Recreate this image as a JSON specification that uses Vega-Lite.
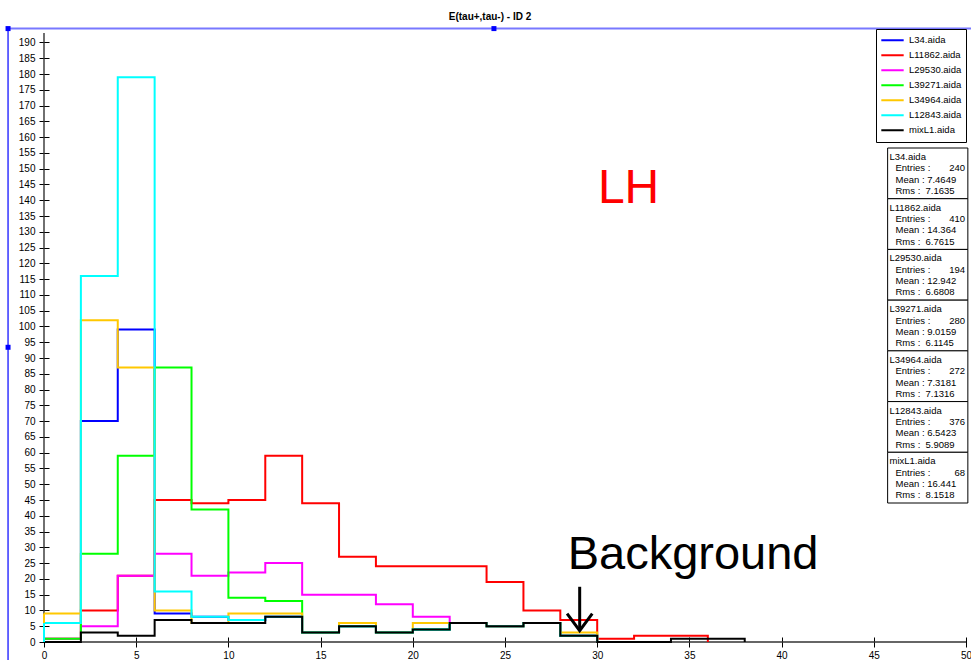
{
  "$schema": "https://vega.github.io/schema/vega-lite/v6.json",
  "width": 922,
  "height": 609,
  "autosize": {"type": "none"},
  "padding": {"left": 44, "top": 33, "right": 5, "bottom": 18},
  "background": "white",
  "config": {"view": {"stroke": null}, "font": "Liberation Sans"},
  "title": {"text": "E(tau+,tau-) - ID 2", "fontSize": 10, "fontWeight": "bold", "font": "Liberation Sans", "color": "black", "offset": 4, "dx": -15, "anchor": "middle"},
  "data": {"values": [{}]},
  "datasets": {
    "hist": [
      {"file": "L34.aida", "edge": 0, "count": 6}, {"file": "L34.aida", "edge": 2, "count": 70}, {"file": "L34.aida", "edge": 4, "count": 99}, {"file": "L34.aida", "edge": 6, "count": 9}, {"file": "L34.aida", "edge": 8, "count": 8}, {"file": "L34.aida", "edge": 10, "count": 7}, {"file": "L34.aida", "edge": 12, "count": 8}, {"file": "L34.aida", "edge": 14, "count": 3}, {"file": "L34.aida", "edge": 16, "count": 5}, {"file": "L34.aida", "edge": 18, "count": 3}, {"file": "L34.aida", "edge": 20, "count": 4}, {"file": "L34.aida", "edge": 22, "count": 6}, {"file": "L34.aida", "edge": 24, "count": 5}, {"file": "L34.aida", "edge": 26, "count": 6}, {"file": "L34.aida", "edge": 28, "count": 2}, {"file": "L34.aida", "edge": 30, "count": 0},
      {"file": "L11862.aida", "edge": 0, "count": 1}, {"file": "L11862.aida", "edge": 2, "count": 10}, {"file": "L11862.aida", "edge": 4, "count": 21}, {"file": "L11862.aida", "edge": 6, "count": 45}, {"file": "L11862.aida", "edge": 8, "count": 44}, {"file": "L11862.aida", "edge": 10, "count": 45}, {"file": "L11862.aida", "edge": 12, "count": 59}, {"file": "L11862.aida", "edge": 14, "count": 44}, {"file": "L11862.aida", "edge": 16, "count": 27}, {"file": "L11862.aida", "edge": 18, "count": 24}, {"file": "L11862.aida", "edge": 20, "count": 24}, {"file": "L11862.aida", "edge": 22, "count": 24}, {"file": "L11862.aida", "edge": 24, "count": 19}, {"file": "L11862.aida", "edge": 26, "count": 10}, {"file": "L11862.aida", "edge": 28, "count": 7}, {"file": "L11862.aida", "edge": 30, "count": 1}, {"file": "L11862.aida", "edge": 32, "count": 2}, {"file": "L11862.aida", "edge": 34, "count": 2}, {"file": "L11862.aida", "edge": 36, "count": 0},
      {"file": "L29530.aida", "edge": 0, "count": 1}, {"file": "L29530.aida", "edge": 2, "count": 5}, {"file": "L29530.aida", "edge": 4, "count": 21}, {"file": "L29530.aida", "edge": 6, "count": 28}, {"file": "L29530.aida", "edge": 8, "count": 21}, {"file": "L29530.aida", "edge": 10, "count": 22}, {"file": "L29530.aida", "edge": 12, "count": 25}, {"file": "L29530.aida", "edge": 14, "count": 15}, {"file": "L29530.aida", "edge": 16, "count": 15}, {"file": "L29530.aida", "edge": 18, "count": 12}, {"file": "L29530.aida", "edge": 20, "count": 8}, {"file": "L29530.aida", "edge": 22, "count": 6}, {"file": "L29530.aida", "edge": 24, "count": 5}, {"file": "L29530.aida", "edge": 26, "count": 6}, {"file": "L29530.aida", "edge": 28, "count": 2}, {"file": "L29530.aida", "edge": 30, "count": 0},
      {"file": "L39271.aida", "edge": 0, "count": 1}, {"file": "L39271.aida", "edge": 2, "count": 28}, {"file": "L39271.aida", "edge": 4, "count": 59}, {"file": "L39271.aida", "edge": 6, "count": 87}, {"file": "L39271.aida", "edge": 8, "count": 42}, {"file": "L39271.aida", "edge": 10, "count": 14}, {"file": "L39271.aida", "edge": 12, "count": 13}, {"file": "L39271.aida", "edge": 14, "count": 3}, {"file": "L39271.aida", "edge": 16, "count": 5}, {"file": "L39271.aida", "edge": 18, "count": 3}, {"file": "L39271.aida", "edge": 20, "count": 4}, {"file": "L39271.aida", "edge": 22, "count": 6}, {"file": "L39271.aida", "edge": 24, "count": 5}, {"file": "L39271.aida", "edge": 26, "count": 6}, {"file": "L39271.aida", "edge": 28, "count": 2}, {"file": "L39271.aida", "edge": 30, "count": 0},
      {"file": "L34964.aida", "edge": 0, "count": 9}, {"file": "L34964.aida", "edge": 2, "count": 102}, {"file": "L34964.aida", "edge": 4, "count": 87}, {"file": "L34964.aida", "edge": 6, "count": 10}, {"file": "L34964.aida", "edge": 8, "count": 6}, {"file": "L34964.aida", "edge": 10, "count": 9}, {"file": "L34964.aida", "edge": 12, "count": 9}, {"file": "L34964.aida", "edge": 14, "count": 3}, {"file": "L34964.aida", "edge": 16, "count": 6}, {"file": "L34964.aida", "edge": 18, "count": 3}, {"file": "L34964.aida", "edge": 20, "count": 6}, {"file": "L34964.aida", "edge": 22, "count": 6}, {"file": "L34964.aida", "edge": 24, "count": 5}, {"file": "L34964.aida", "edge": 26, "count": 6}, {"file": "L34964.aida", "edge": 28, "count": 3}, {"file": "L34964.aida", "edge": 30, "count": 0},
      {"file": "L12843.aida", "edge": 0, "count": 6}, {"file": "L12843.aida", "edge": 2, "count": 116}, {"file": "L12843.aida", "edge": 4, "count": 179}, {"file": "L12843.aida", "edge": 6, "count": 16}, {"file": "L12843.aida", "edge": 8, "count": 8}, {"file": "L12843.aida", "edge": 10, "count": 7}, {"file": "L12843.aida", "edge": 12, "count": 8}, {"file": "L12843.aida", "edge": 14, "count": 3}, {"file": "L12843.aida", "edge": 16, "count": 5}, {"file": "L12843.aida", "edge": 18, "count": 3}, {"file": "L12843.aida", "edge": 20, "count": 4}, {"file": "L12843.aida", "edge": 22, "count": 6}, {"file": "L12843.aida", "edge": 24, "count": 5}, {"file": "L12843.aida", "edge": 26, "count": 6}, {"file": "L12843.aida", "edge": 28, "count": 2}, {"file": "L12843.aida", "edge": 30, "count": 0},
      {"file": "mixL1.aida", "edge": 0, "count": 0}, {"file": "mixL1.aida", "edge": 2, "count": 3}, {"file": "mixL1.aida", "edge": 4, "count": 2}, {"file": "mixL1.aida", "edge": 6, "count": 7}, {"file": "mixL1.aida", "edge": 8, "count": 6}, {"file": "mixL1.aida", "edge": 10, "count": 6}, {"file": "mixL1.aida", "edge": 12, "count": 8}, {"file": "mixL1.aida", "edge": 14, "count": 3}, {"file": "mixL1.aida", "edge": 16, "count": 5}, {"file": "mixL1.aida", "edge": 18, "count": 3}, {"file": "mixL1.aida", "edge": 20, "count": 4}, {"file": "mixL1.aida", "edge": 22, "count": 6}, {"file": "mixL1.aida", "edge": 24, "count": 5}, {"file": "mixL1.aida", "edge": 26, "count": 6}, {"file": "mixL1.aida", "edge": 28, "count": 2}, {"file": "mixL1.aida", "edge": 30, "count": 0}, {"file": "mixL1.aida", "edge": 32, "count": 0}, {"file": "mixL1.aida", "edge": 34, "count": 1}, {"file": "mixL1.aida", "edge": 36, "count": 1}, {"file": "mixL1.aida", "edge": 38, "count": 0}
    ],
    "stats": [
      {"file": "L34.aida", "entries": 240, "mean": "7.4649", "rms": "7.1635"},
      {"file": "L11862.aida", "entries": 410, "mean": "14.364", "rms": "6.7615"},
      {"file": "L29530.aida", "entries": 194, "mean": "12.942", "rms": "6.6808"},
      {"file": "L39271.aida", "entries": 280, "mean": "9.0159", "rms": "6.1145"},
      {"file": "L34964.aida", "entries": 272, "mean": "7.3181", "rms": "7.1316"},
      {"file": "L12843.aida", "entries": 376, "mean": "6.5423", "rms": "5.9089"},
      {"file": "mixL1.aida", "entries": 68, "mean": "16.441", "rms": "8.1518"}
    ]
  },
  "layer": [
    {
      "layer": [
        {
          "mark": {"type": "rule", "color": "#7878ff", "strokeWidth": 2},
          "encoding": {
            "x": {"datum": -1.95, "type": "quantitative", "scale": {"domain": [0, 50], "nice": false, "zero": false}},
            "x2": {"datum": 50.3},
            "y": {"datum": 194.4, "type": "quantitative", "scale": {"domain": [0, 193], "nice": false}}
          }
        },
        {
          "mark": {"type": "rule", "color": "#0000ff", "strokeWidth": 1.2},
          "encoding": {
            "x": {"datum": -1.95, "type": "quantitative", "scale": {"domain": [0, 50], "nice": false, "zero": false}},
            "y": {"datum": -6, "type": "quantitative", "scale": {"domain": [0, 193], "nice": false}},
            "y2": {"datum": 194.4}
          }
        },
        {
          "mark": {"type": "point", "shape": "square", "filled": true, "color": "#0000ff", "size": 25, "opacity": 1},
          "encoding": {
            "x": {"datum": -1.95, "type": "quantitative", "scale": {"domain": [0, 50], "nice": false, "zero": false}},
            "y": {"datum": 194.4, "type": "quantitative", "scale": {"domain": [0, 193], "nice": false}}
          }
        },
        {
          "mark": {"type": "point", "shape": "square", "filled": true, "color": "#0000ff", "size": 25, "opacity": 1},
          "encoding": {
            "x": {"datum": 24.4, "type": "quantitative"},
            "y": {"datum": 194.4, "type": "quantitative", "scale": {"domain": [0, 193], "nice": false}}
          }
        },
        {
          "mark": {"type": "point", "shape": "square", "filled": true, "color": "#0000ff", "size": 25, "opacity": 1},
          "encoding": {
            "x": {"datum": -1.95, "type": "quantitative", "scale": {"domain": [0, 50], "nice": false, "zero": false}},
            "y": {"datum": 93.4, "type": "quantitative"}
          }
        },
        {
          "mark": {"type": "rule", "color": "#333333", "strokeWidth": 1.4},
          "encoding": {"x": {"datum": 0, "type": "quantitative"}}
        },
        {
          "mark": {"type": "rule", "color": "#333333", "strokeWidth": 1.4},
          "encoding": {"y": {"datum": 0, "type": "quantitative"}}
        },
        {
          "data": {"name": "hist"},
          "mark": {"type": "line", "interpolate": "step-after", "strokeWidth": 2},
          "encoding": {
            "x": {
              "field": "edge", "type": "quantitative",
              "scale": {"domain": [0, 50], "nice": false, "zero": false},
              "axis": {"title": null, "tickCount": 10, "offset": -5, "tickSize": 10, "domain": false, "grid": false, "labelFontSize": 10, "labelColor": "black", "tickColor": "black", "labelPadding": 3, "labelFlush": false, "labelFont": "Liberation Sans"}
            },
            "y": {
              "field": "count", "type": "quantitative",
              "scale": {"domain": [0, 193], "nice": false},
              "axis": {"title": null, "tickCount": 40, "offset": -5, "tickSize": 10, "domain": false, "grid": false, "labelFontSize": 10, "labelColor": "black", "tickColor": "black", "labelPadding": 4, "labelFlush": false, "labelFont": "Liberation Sans"}
            },
            "color": {
              "field": "file", "type": "nominal",
              "scale": {
                "domain": ["L34.aida", "L11862.aida", "L29530.aida", "L39271.aida", "L34964.aida", "L12843.aida", "mixL1.aida"],
                "range": ["#0000ff", "#ff0000", "#ff00ff", "#00ff00", "#ffc800", "#00ffff", "#000000"]
              },
              "legend": {
                "title": null, "orient": "none", "legendX": 832, "legendY": -4,
                "strokeColor": "black", "fillColor": "white", "padding": 4,
                "symbolType": "stroke", "symbolStrokeWidth": 2, "symbolSize": 500,
                "labelFontSize": 9.5, "labelFont": "Liberation Sans", "labelColor": "black", "labelOffset": 4,
                "clipHeight": 14.5, "rowPadding": 0
              }
            }
          }
        },
        {
          "data": {"name": "hist"},
          "transform": [{"filter": "datum.edge == 0"}],
          "mark": {"type": "rule", "strokeWidth": 2},
          "encoding": {
            "x": {"field": "edge", "type": "quantitative"},
            "y": {"field": "count", "type": "quantitative"},
            "y2": {"datum": 0},
            "color": {"field": "file", "type": "nominal"}
          }
        },
        {
          "mark": {"type": "text", "text": "LH", "color": "#ff0000", "fontSize": 48, "font": "Liberation Sans", "align": "center", "baseline": "alphabetic"},
          "encoding": {"x": {"datum": 31.7, "type": "quantitative"}, "y": {"datum": 139, "type": "quantitative"}}
        },
        {
          "mark": {"type": "text", "text": "Background", "color": "black", "fontSize": 47, "font": "Liberation Sans", "align": "center", "baseline": "alphabetic"},
          "encoding": {"x": {"datum": 35.2, "type": "quantitative"}, "y": {"datum": 23.2, "type": "quantitative"}}
        },
        {
          "mark": {"type": "rule", "color": "black", "strokeWidth": 3},
          "encoding": {"x": {"datum": 29.05, "type": "quantitative"}, "y": {"datum": 17.5, "type": "quantitative"}, "y2": {"datum": 3.8}}
        },
        {
          "mark": {"type": "point", "shape": "M-0.74,-1L0,0L0.74,-1", "filled": false, "stroke": "black", "strokeWidth": 3, "size": 1156, "opacity": 1, "strokeJoin": "miter"},
          "encoding": {"x": {"datum": 29.05, "type": "quantitative"}, "y": {"datum": 3.6, "type": "quantitative"}}
        }
      ]
    },
    {
      "data": {"name": "stats"},
      "encoding": {
        "y": {"field": "file", "type": "nominal", "sort": null, "scale": {"range": [115, 470], "paddingInner": 0, "paddingOuter": 0}, "axis": null}
      },
      "layer": [
        {
          "mark": {"type": "rect", "fill": "white", "stroke": "black", "strokeWidth": 1},
          "encoding": {"x": {"datum": 45.75, "type": "quantitative"}, "x2": {"datum": 50.1}}
        },
        {
          "mark": {"type": "text", "align": "left", "baseline": "middle", "fontSize": 9.5, "font": "Liberation Sans", "color": "black", "dy": -16.3},
          "encoding": {"x": {"datum": 45.85, "type": "quantitative"}, "text": {"field": "file"}}
        },
        {
          "transform": [{"calculate": "'Entries :\\nMean : ' + datum.mean + '\\nRms :\u00a0\u00a0' + datum.rms", "as": "block"}],
          "mark": {"type": "text", "align": "left", "baseline": "middle", "lineBreak": "\n", "lineHeight": 11.3, "fontSize": 9.5, "font": "Liberation Sans", "color": "black", "dy": -5, "dx": 6},
          "encoding": {"x": {"datum": 45.85, "type": "quantitative"}, "text": {"field": "block"}}
        },
        {
          "mark": {"type": "text", "align": "right", "baseline": "middle", "fontSize": 9.5, "font": "Liberation Sans", "color": "black", "dy": -5},
          "encoding": {"x": {"datum": 49.95, "type": "quantitative"}, "text": {"field": "entries"}}
        }
      ]
    }
  ],
  "resolve": {"scale": {"y": "independent"}, "axis": {"y": "independent"}}
}
